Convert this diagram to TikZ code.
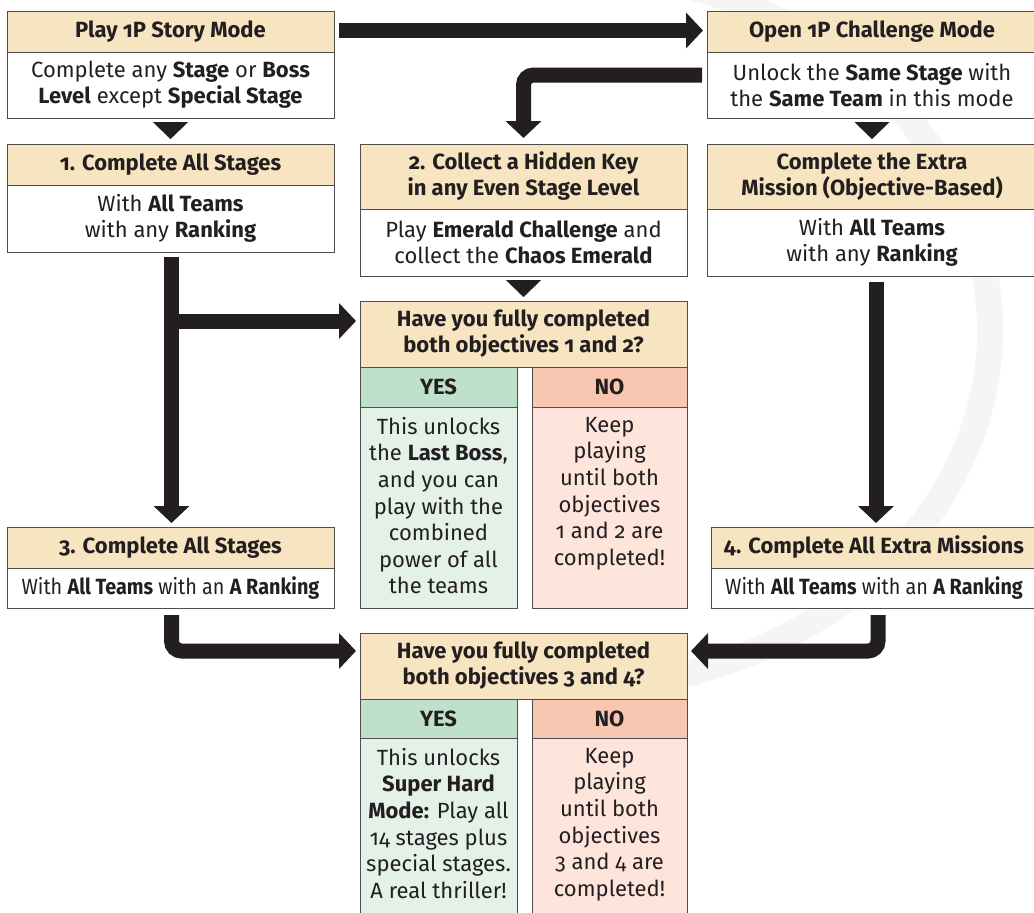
\documentclass[tikz,border=0pt]{standalone}
\usepackage{fontspec}
\setmainfont{Fira Sans}[Numbers=OldStyle]
\newfontfamily\condfont{Fira Sans}[Numbers=OldStyle,FakeStretch=0.9]
\usetikzlibrary{arrows.meta,calc}
\definecolor{hdrc}{HTML}{F7E5C1}
\definecolor{yesh}{HTML}{BFE1CB}
\definecolor{yesb}{HTML}{E3F1E8}
\definecolor{noh}{HTML}{F9C7B1}
\definecolor{nob}{HTML}{FDE5DB}
\definecolor{bord}{HTML}{4D4D4D}
\definecolor{ink}{HTML}{231F20}
\definecolor{wm}{HTML}{F5F5F5}
\begin{document}
\begin{tikzpicture}[x=1pt,y=-1pt,
  base/.style={draw=bord, line width=0.9pt, inner sep=0pt, outer sep=0pt, anchor=north west,
    align=center, text=ink, font=\fontsize{22}{26}\selectfont},
  hbox/.style={base, fill=hdrc, font=\fontsize{22}{26}\selectfont\bfseries},
  wbox/.style={base, fill=white},
  ybox/.style={base, fill=yesh, font=\fontsize{22}{26}\selectfont\bfseries},
  nbox/.style={base, fill=noh, font=\fontsize{22}{26}\selectfont\bfseries},
  ybody/.style={base, fill=yesb},
  nbody/.style={base, fill=nob},
  btext/.style={anchor=north, align=center, text=ink, inner sep=0pt, font=\fontsize{22}{26.6}\selectfont},
  bigarrow/.style={draw=ink, line width=15pt, -{Triangle[length=17pt,width=35pt]}, rounded corners=10pt},
  tri/.style={draw=ink, line width=0.1pt, -{Triangle[length=17pt,width=35pt]}}
]
\useasboundingbox (0,0) rectangle (1034,913);
\clip (0,0) rectangle (1034,913);
% faint watermark swoosh
\draw[wm, line width=26pt] (560,330) ++(75:430 and 360) arc[start angle=75, end angle=-95, x radius=430, y radius=360];

% top row
\node[hbox, minimum width=327pt, minimum height=41pt] (Ah) at (7,11) {Play 1P Story Mode};
\node[wbox, minimum width=327pt, minimum height=66pt] (Ab) at (7,52) {Complete any \textbf{Stage} or \textbf{Boss}\\\textbf{Level} except \textbf{Special Stage}};
\node[hbox, minimum width=330pt, minimum height=41pt] (Oh) at (707,11) {Open 1P Challenge Mode};
\node[wbox, minimum width=330pt, minimum height=66pt] (Ob) at (707,52) {Unlock the \textbf{Same Stage} with\\the \textbf{Same Team} in this mode};

% second row
\node[hbox, minimum width=327pt, minimum height=41pt] (Ch) at (7,144) {1. Complete All Stages};
\node[wbox, minimum width=327pt, minimum height=67pt] (Cb) at (7,185) {With \textbf{All Teams}\\with any \textbf{Ranking}};
\node[hbox, minimum width=327pt, minimum height=65pt] (Bh) at (360,144) {2. Collect a Hidden Key\\in any Even Stage Level};
\node[wbox, minimum width=327pt, minimum height=67pt] (Bb) at (360,209) {Play \textbf{Emerald Challenge} and\\collect the \textbf{Chaos Emerald}};
\node[hbox, minimum width=330pt, minimum height=65pt] (Eh) at (707,144) {Complete the Extra\\Mission (Objective-Based)};
\node[wbox, minimum width=330pt, minimum height=67pt] (Eb) at (707,209) {With \textbf{All Teams}\\with any \textbf{Ranking}};

% question 1
\node[hbox, minimum width=327pt, minimum height=66pt] (Q1h) at (360,301) {Have you fully completed\\both objectives 1 and 2?};
\node[ybox, minimum width=157pt, minimum height=40pt] (Y1h) at (360,367) {YES};
\node[nbox, minimum width=155pt, minimum height=40pt] (N1h) at (532,367) {NO};
\node[ybody, minimum width=157pt, minimum height=201pt] (Y1b) at (360,407) {};
\node[nbody, minimum width=155pt, minimum height=201pt] (N1b) at (532,407) {};
\node[btext] (Y1t) at ([yshift=-10pt]Y1b.north) {This unlocks\\the \textbf{Last Boss},\\and you can\\play with the\\combined\\power of all\\the teams};
\node[btext] (N1t) at ([yshift=-10pt]N1b.north) {Keep\\playing\\until both\\objectives\\1 and 2 are\\completed!};

% third row
\node[hbox, minimum width=327pt, minimum height=41pt] (Dh) at (7,527) {3. Complete All Stages};
\node[wbox, minimum width=327pt, minimum height=40pt] (Db) at (7,568) {\condfont With \textbf{All Teams} with an \textbf{A Ranking}};
\node[hbox, minimum width=326pt, minimum height=41pt] (Fh) at (711,527) {4. Complete All Extra Missions};
\node[wbox, minimum width=326pt, minimum height=40pt] (Fb) at (711,568) {\condfont With \textbf{All Teams} with an \textbf{A Ranking}};

% question 2
\node[hbox, minimum width=327pt, minimum height=66pt] (Q2h) at (360,633) {Have you fully completed\\both objectives 3 and 4?};
\node[ybox, minimum width=157pt, minimum height=39pt] (Y2h) at (360,699) {YES};
\node[nbox, minimum width=155pt, minimum height=39pt] (N2h) at (532,699) {NO};
\node[ybody, minimum width=157pt, minimum height=200pt] (Y2b) at (360,738) {};
\node[nbody, minimum width=155pt, minimum height=200pt] (N2b) at (532,738) {};
\node[btext] (Y2t) at ([yshift=-10pt]Y2b.north) {This unlocks\\\textbf{Super Hard}\\\textbf{Mode:} Play all\\14 stages plus\\special stages.\\A real thriller!};
\node[btext] (N2t) at ([yshift=-10pt]N2b.north) {Keep\\playing\\until both\\objectives\\3 and 4 are\\completed!};

% connectors
\draw[bigarrow, shorten <=5pt, shorten >=4pt] ([yshift=1pt]Ah.east) -- ([yshift=1pt]Oh.west);
\draw[bigarrow, shorten <=5pt, shorten >=6pt] ([yshift=10pt]Ob.west) -| (Bh.north);
\draw[tri, shorten <=4pt, shorten >=5pt] (Ab.south) -- (Ch.north);
\draw[tri, shorten <=4pt, shorten >=5pt] (Ob.south) -- (Eh.north);
\draw[tri, shorten <=4pt, shorten >=4pt] (Bb.south) -- (Q1h.north);
\draw[bigarrow, rounded corners=0pt, shorten <=5pt, shorten >=4pt] ([xshift=1pt]Cb.south) -- ([xshift=1pt]Dh.north);
\coordinate (br) at (172,321);
\draw[bigarrow, rounded corners=0pt, shorten <=-7pt, shorten >=4pt] (br) -- (br -| Q1h.west);
\draw[bigarrow, rounded corners=0pt, shorten <=6pt, shorten >=4pt] ([xshift=4pt]Eb.south) -- ([xshift=4pt]Eb.south |- Fh.north);
\draw[bigarrow, shorten <=7pt, shorten >=4pt] ([xshift=1pt]Db.south) |- ([yshift=15pt]Q2h.west);
\draw[bigarrow, shorten <=7pt, shorten >=4pt] ([xshift=4pt]Fb.south) |- ([yshift=15pt]Q2h.east);
\end{tikzpicture}
\end{document}
